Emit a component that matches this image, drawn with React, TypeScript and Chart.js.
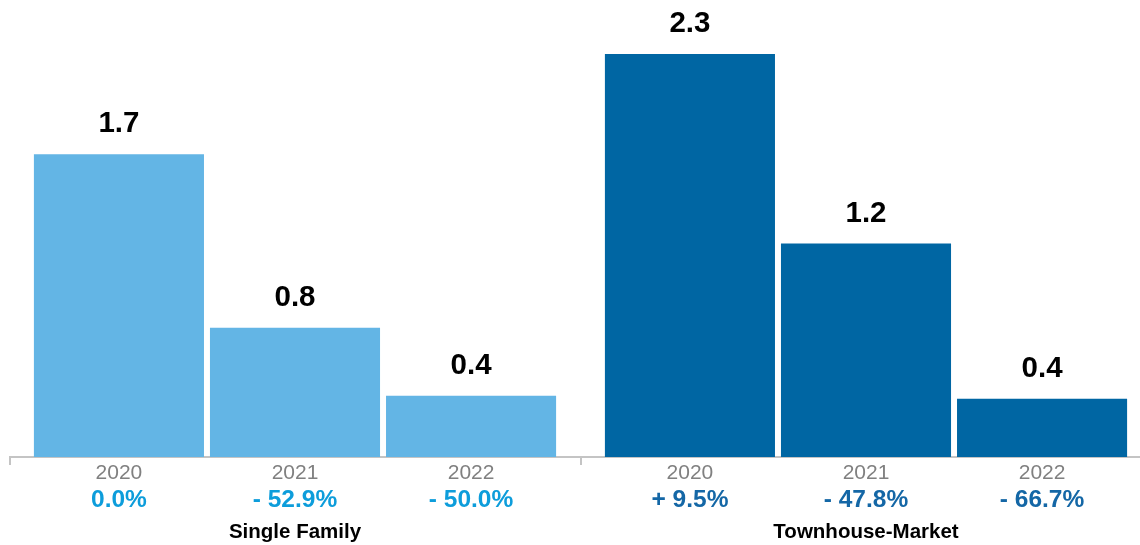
import React, { useEffect, useRef } from "react";
import { Chart, registerables } from "chart.js";

Chart.register(...registerables);

const categories = ["Single Family", "Townhouse-Market"];
const years = ["2020", "2021", "2022"];
// bar heights (per year, per category)
const values2020 = [1.716, 2.284];
const values2021 = [0.733, 1.21];
const values2022 = [0.347, 0.33];
// labels printed above bars
const valueLabels2020 = ["1.7", "2.3"];
const valueLabels2021 = ["0.8", "1.2"];
const valueLabels2022 = ["0.4", "0.4"];
// change labels under the years
const change2020 = ["0.0%", "+ 9.5%"];
const change2021 = ["- 52.9%", "- 47.8%"];
const change2022 = ["- 50.0%", "- 66.7%"];

const barColors = ["#63b5e5", "#0066a3"];
const changeColors = ["#0d9ddb", "#1467a6"];
const FONT = "'Liberation Sans', Arial, Helvetica, sans-serif";

export default function App() {
  const ref = useRef<HTMLCanvasElement | null>(null);

  useEffect(() => {
    const canvas = ref.current;
    if (!canvas) return;
    const valueLabels = [valueLabels2020, valueLabels2021, valueLabels2022];
    const changes = [change2020, change2021, change2022];

    const labelPlugin = {
      id: "customLabels",
      afterDraw(chart: any) {
        const ctx = chart.ctx;
        ctx.save();
        ctx.textAlign = "center";
        ctx.textBaseline = "alphabetic";
        chart.data.datasets.forEach((ds: any, di: number) => {
          const meta = chart.getDatasetMeta(di);
          meta.data.forEach((el: any, ci: number) => {
            const x = el.x;
            ctx.fillStyle = "#000000";
            ctx.font = `bold 29.5px ${FONT}`;
            ctx.fillText(valueLabels[di][ci], x, el.y - 22);
            ctx.fillStyle = "#808080";
            ctx.font = `21px ${FONT}`;
            ctx.fillText(years[di], x, 479);
            ctx.fillStyle = changeColors[ci];
            ctx.font = `bold 24.5px ${FONT}`;
            ctx.fillText(changes[di][ci], x, 507);
          });
        });
        const xs = chart.scales.x;
        ctx.fillStyle = "#000000";
        ctx.font = `bold 20.5px ${FONT}`;
        categories.forEach((c, i) => {
          ctx.fillText(c, xs.getPixelForValue(i), 538);
        });
        ctx.restore();
      },
    };

    const chart = new Chart(canvas, {
      type: "bar",
      data: {
        labels: categories,
        datasets: [
          { label: years[0], data: values2020, backgroundColor: barColors },
          { label: years[1], data: values2021, backgroundColor: barColors },
          { label: years[2], data: values2022, backgroundColor: barColors },
        ],
      },
      options: {
        responsive: false,
        animation: false,
        devicePixelRatio: 1,
        layout: { padding: { left: 9.5, right: 8.5, top: 16, bottom: 80 } },
        datasets: {
          bar: { categoryPercentage: 0.925, barPercentage: 0.966, borderWidth: 0 },
        },
        plugins: {
          legend: { display: false },
          tooltip: { enabled: false },
          title: { display: false },
        },
        scales: {
          x: {
            grid: {
              display: true,
              drawOnChartArea: false,
              drawTicks: true,
              tickLength: 8,
              color: "#c4c4c4",
              lineWidth: 2,
              offset: true,
            },
            border: { display: true, color: "#c4c4c4", width: 2 },
            ticks: { display: false },
          },
          y: { display: false, min: 0, max: 2.5 },
        },
      },
      plugins: [labelPlugin],
    });
    return () => chart.destroy();
  }, []);

  return (
    <div
      style={{
        position: "fixed",
        left: 0,
        top: 0,
        width: 1140,
        height: 545,
        overflow: "hidden",
        background: "#ffffff",
      }}
    >
      <canvas ref={ref} width={1160} height={545} style={{ display: "block" }} />
    </div>
  );
}
